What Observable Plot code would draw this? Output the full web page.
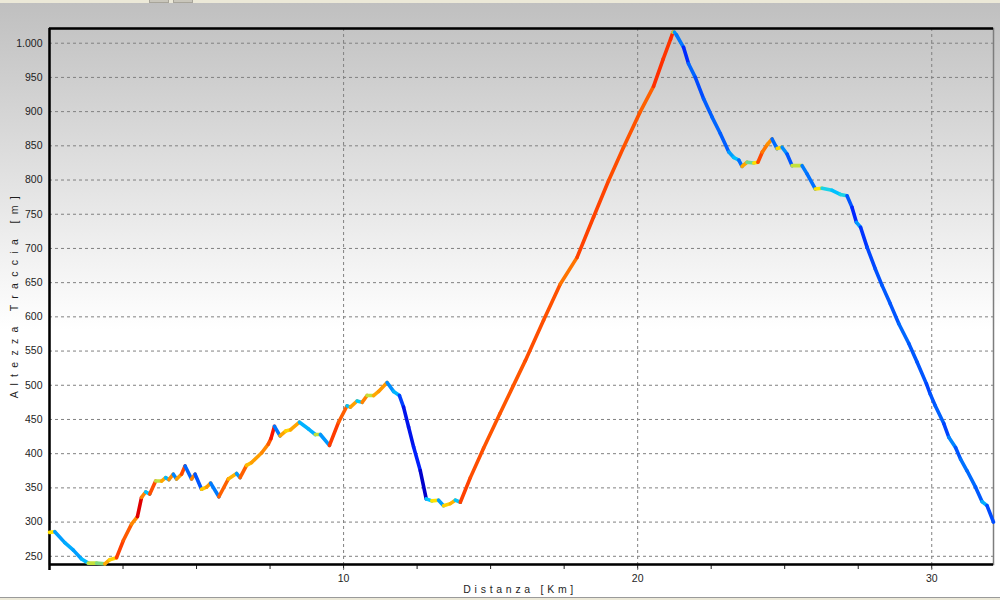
<!DOCTYPE html>
<html>
<head>
<meta charset="utf-8">
<script src="https://cdn.jsdelivr.net/npm/d3@7"></script>
<script src="https://cdn.jsdelivr.net/npm/@observablehq/plot@0.6"></script>
<style>
  html, body { margin: 0; padding: 0; }
  #wrap {
    position: relative; width: 1000px; height: 600px; overflow: hidden;
    background: linear-gradient(to bottom, #bfbfbf 0px, #d6d6d6 120px, #f2f2f2 260px, #ffffff 330px, #ffffff 600px);
  }
  #topbar { position: absolute; left: 0; top: 0; width: 1000px; height: 3px; background: #ece9d8; }
  .tab { position: absolute; top: 0; height: 2px; width: 18px; background: #c9c6bb; border: 1px solid #a8a59a; border-top: none; }
  #bottombar { position: absolute; left: 0; top: 597px; width: 1000px; height: 3px; background: #ece9d8; border-top: 1px solid #9a9a9a; }
  #chart { position: absolute; left: 0; top: 0; }
  #chart svg { overflow: visible; }
</style>
</head>
<body>
<div id="wrap">
  <div id="topbar"></div>
  <div class="tab" style="left:149px"></div>
  <div class="tab" style="left:173px"></div>
  <div id="chart"></div>
  <div id="bottombar"></div>
</div>
<script>
// ---- Data (distance in km, elevation in m) ----
const km = [
  0.00, 0.18, 0.52, 0.81, 1.09, 1.32, 1.60, 1.88, 2.05, 2.28,
  2.51, 2.79, 2.99, 3.13, 3.27, 3.41, 3.61, 3.81, 3.95, 4.06,
  4.21, 4.32, 4.49, 4.61, 4.83, 4.95, 5.17, 5.34, 5.48, 5.76,
  6.08, 6.36, 6.48, 6.70, 6.87, 7.21, 7.44, 7.53, 7.65, 7.84,
  8.03, 8.20, 8.50, 8.81, 9.04, 9.21, 9.52, 9.83, 10.12, 10.23,
  10.46, 10.63, 10.80, 11.02, 11.19, 11.48, 11.70, 11.90, 12.04, 12.21,
  12.38, 12.61, 12.81, 13.00, 13.23, 13.40, 13.63, 13.80, 13.97, 14.31,
  14.76, 15.31, 16.18, 16.80, 17.37, 17.94, 18.50, 19.01, 19.52, 20.09,
  20.54, 20.87, 21.12, 21.20, 21.25, 21.32, 21.56, 21.73, 21.96, 22.24,
  22.53, 22.81, 23.10, 23.27, 23.44, 23.55, 23.72, 23.95, 24.09, 24.24,
  24.41, 24.57, 24.74, 24.91, 25.08, 25.25, 25.59, 25.76, 26.04, 26.27,
  26.61, 26.89, 27.12, 27.29, 27.44, 27.58, 27.80, 28.08, 28.31, 28.59,
  28.88, 29.22, 29.50, 29.82, 29.95, 30.12, 30.41, 30.58, 30.81, 30.98,
  31.20, 31.49, 31.71, 31.88, 32.10
];
const elev = [
  285, 286, 270, 259, 246, 240, 240, 239, 245, 248,
  273, 297, 308, 336, 344, 341, 360, 360, 365, 362,
  370, 363, 370, 382, 363, 370, 348, 351, 357, 337,
  363, 371, 365, 383, 387, 401, 414, 422, 440, 426,
  433, 435, 446, 436, 428, 428, 412, 446, 470, 468,
  477, 475, 485, 485, 491, 504, 491, 485, 468, 439,
  410, 375, 334, 331, 332, 324, 327, 332, 329, 365,
  408, 458, 536, 595, 648, 687, 746, 799, 848, 900,
  937, 977, 1006, 1016, 1016, 1012, 994, 970, 950, 919,
  892, 868, 841, 833, 829, 820, 826, 825, 826, 841,
  852, 860, 846, 848, 838, 821, 821, 809, 787, 788,
  785, 779, 777, 760, 738, 731, 702, 670, 646, 619,
  590, 561, 534, 502, 487, 470, 444, 424, 409, 392,
  375, 351, 330, 324, 300
];

// ---- Axis ticks and labels ----
const yTicks = [250, 300, 350, 400, 450, 500, 550, 600, 650, 700, 750, 800, 850, 900, 950, 1000];
const xTicks = [0, 2.5, 5, 7.5, 10, 12.5, 15, 17.5, 20, 22.5, 25, 27.5, 30];
const xLabelled = [10, 20, 30];
const xDomain = [0, 32.1];
const yDomain = [238, 1021.5];
const xTitle = "D i s t a n z a   [ K m ]";
const yTitle = "A l t e z z a   T r a c c i a   [ m ]";

// slope (%) -> colour stops
const gradeStops  = [-20, -15, -9, -4, -1, 0.3, 3, 7, 10, 14, 20];
const gradeColors = ["#0000d0", "#0020ff", "#0060ff", "#00a8ff", "#00d0ff", "#ffe600", "#ffb000", "#ff7000", "#ff4800", "#ff1800", "#e00000"];

// segments between consecutive track points, coloured by slope
const segs = km.slice(1).map((k, i) => ({
  k1: km[i], e1: elev[i], k2: k, e2: elev[i + 1],
  grade: (elev[i + 1] - elev[i]) / ((k - km[i]) * 1000) * 100
}));

const it = d3.formatLocale({decimal: ",", thousands: ".", grouping: [3], currency: ["€", ""]});
const fmtY = it.format(",");

const font = "'Liberation Sans Narrow', 'Arial Narrow', 'Liberation Sans', Arial, sans-serif";

const chart = Plot.plot({
  width: 1000,
  height: 600,
  marginLeft: 49,
  marginRight: 7,
  marginTop: 28,
  marginBottom: 36,
  style: {background: "transparent", fontFamily: font, fontSize: "10.5px", color: "#1e1e1e"},
  x: {domain: xDomain, ticks: xTicks, tickSize: 5, tickPadding: 5,
      tickFormat: d => xLabelled.includes(d) ? String(d) : "", label: null},
  y: {domain: yDomain, ticks: yTicks, tickSize: 0, tickPadding: 7,
      tickFormat: d => fmtY(d), label: null},
  color: {type: "linear", domain: gradeStops, range: gradeColors, interpolate: "rgb"},
  marks: [
    Plot.frame({stroke: "#7d7d7d", strokeWidth: 1.5}),
    Plot.ruleY(yTicks, {stroke: "#808080", strokeOpacity: 1, strokeWidth: 1, strokeDasharray: "3,3"}),
    Plot.ruleX(xLabelled, {stroke: "#808080", strokeOpacity: 1, strokeWidth: 1, strokeDasharray: "3,3", insetBottom: -6}),
    Plot.ruleX([xDomain[0]], {stroke: "#000", strokeWidth: 2.5, insetBottom: -6}),
    Plot.ruleY([yDomain[0]], {stroke: "#000", strokeWidth: 2.5}),
    Plot.ruleY([yDomain[1]], {stroke: "#000", strokeWidth: 2.5}),
    Plot.link(segs, {x1: "k1", y1: "e1", x2: "k2", y2: "e2", stroke: "grade",
                     strokeWidth: 3.6, strokeLinecap: "round", strokeLinejoin: "round"}),
    Plot.text([xTitle], {frameAnchor: "bottom", textAnchor: "middle", dy: 28, dx: -3, fill: "#1e1e1e", fontSize: 10.5}),
    Plot.text([yTitle], {frameAnchor: "left", textAnchor: "middle", rotate: -90, dx: -35, fill: "#1e1e1e", fontSize: 10.5})
  ]
});
// letter spacing of the axis titles, as in the reference
d3.select(chart).selectAll("text").each(function() {
  const t = this.textContent;
  if (t === xTitle) this.setAttribute("letter-spacing", "0.4");
  if (t === yTitle) this.setAttribute("letter-spacing", "1.7");
});
document.getElementById("chart").appendChild(chart);
</script>
</body>
</html>
